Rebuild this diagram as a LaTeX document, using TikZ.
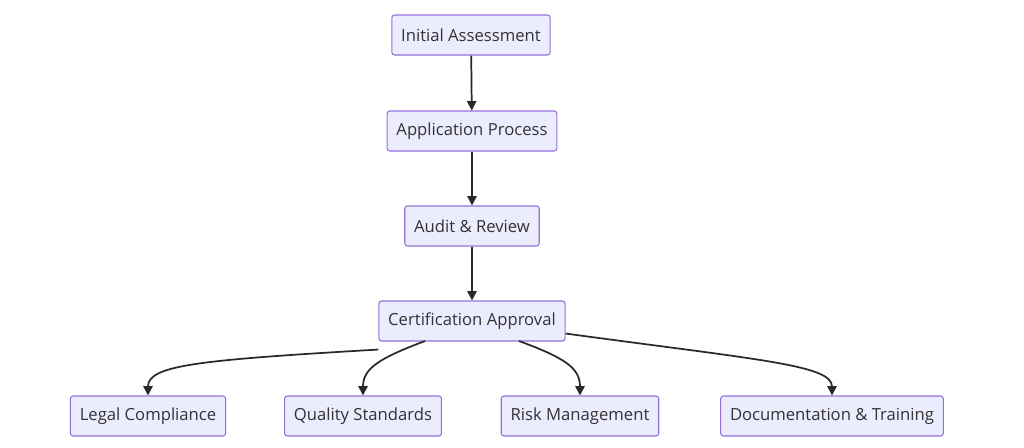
\documentclass[tikz,border=0pt]{standalone}
\usepackage{fontspec}
\setmainfont{Open Sans}
\usetikzlibrary{arrows.meta}
\definecolor{nfill}{HTML}{ECECFF}
\definecolor{nline}{HTML}{9370DB}
\definecolor{ntext}{HTML}{333333}
\tikzset{box/.style={draw=nline,fill=nfill,rounded corners=2pt,line width=0.8pt,text=ntext,font=\fontsize{12.5}{14}\selectfont,minimum height=30pt,inner xsep=7pt},
conn/.style={draw=ntext!80!black,line width=1.3pt,-{Triangle[length=7pt,width=7pt]}}}
\begin{document}
\begin{tikzpicture}[x=0.75pt,y=-0.75pt]
\path[use as bounding box] (0,0) rectangle (1024,447);
\node[box] (a) at (471,35) {Initial Assessment};
\node[box] (b) at (472,131) {Application Process};
\node[box] (c) at (472,226) {Audit \& Review};
\node[box] (d) at (472,321) {Certification Approval};
\node[box] (e) at (148,416) {Legal Compliance};
\node[box] (f) at (363,416) {Quality Standards};
\node[box] (g) at (580,416) {Risk Management};
\node[box] (h) at (832,416) {Documentation \& Training};
\draw[conn] (a) -- (b);
\draw[conn] (b) -- (c);
\draw[conn] (c) -- (d);
\draw[conn] (d.south west) ++(0,-6pt) coordinate (d1) (d1) .. controls (200,360) and (148,365) .. (e.north);
\draw[conn] (425,341) .. controls (380,358) and (363,368) .. (f.north);
\draw[conn] (519,341) .. controls (565,358) and (580,368) .. (g.north);
\draw[conn] (d.south east) ++(0,6pt) coordinate (d2) (d2) .. controls (760,360) and (832,365) .. (h.north);
\end{tikzpicture}
\end{document}
